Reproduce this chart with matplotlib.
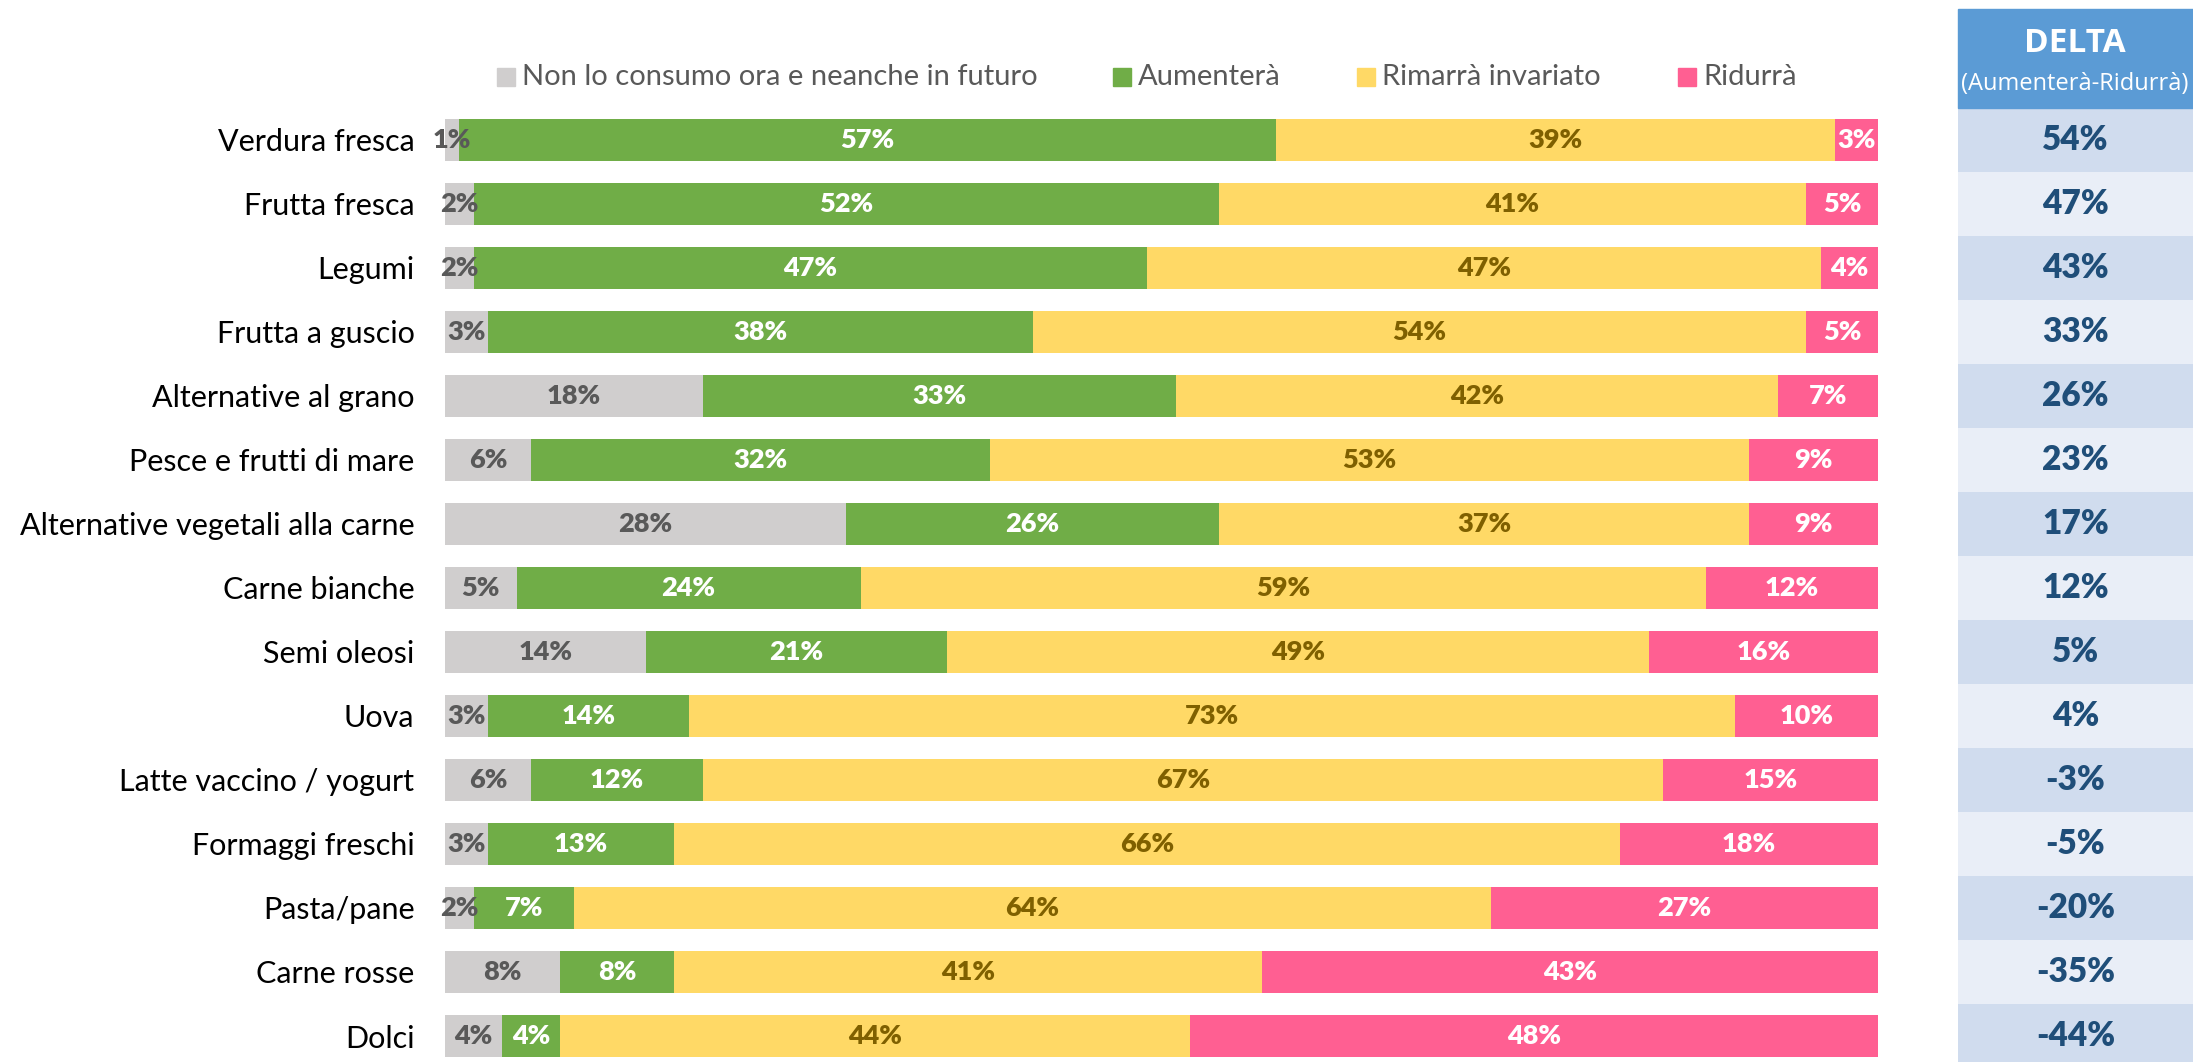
import matplotlib
matplotlib.use('Agg')
import matplotlib.pyplot as plt
from matplotlib.patches import Rectangle

# data
categories = ["Verdura fresca", "Frutta fresca", "Legumi", "Frutta a guscio",
              "Alternative al grano", "Pesce e frutti di mare",
              "Alternative vegetali alla carne", "Carne bianche", "Semi oleosi",
              "Uova", "Latte vaccino / yogurt", "Formaggi freschi", "Pasta/pane",
              "Carne rosse", "Dolci"]
non_consumo = [1, 2, 2, 3, 18, 6, 28, 5, 14, 3, 6, 3, 2, 8, 4]
aumentera = [57, 52, 47, 38, 33, 32, 26, 24, 21, 14, 12, 13, 7, 8, 4]
invariato = [39, 41, 47, 54, 42, 53, 37, 59, 49, 73, 67, 66, 64, 41, 44]
ridurra = [3, 5, 4, 5, 7, 9, 9, 12, 16, 10, 15, 18, 27, 43, 48]
delta = [54, 47, 43, 33, 26, 23, 17, 12, 5, 4, -3, -5, -20, -35, -44]

series_names = ["Non lo consumo ora e neanche in futuro", "Aumenterà",
                "Rimarrà invariato", "Ridurrà"]
series = [non_consumo, aumentera, invariato, ridurra]
colors = ["#D0CECE", "#70AD47", "#FFD966", "#FF5F92"]
text_colors = ["#595959", "white", "#7F6000", "white"]

plt.rcParams['font.family'] = ['Lato', 'DejaVu Sans']

W, H = 2193, 1062
fig = plt.figure(figsize=(W / 100, H / 100), dpi=100)

top_px = 108
row_h = 64
n = len(categories)
y_low = n - 0.5 - (top_px + n * row_h - H) / row_h

def fx(px):
    return px / W

def fy(px):
    return 1 - px / H

ax = fig.add_axes([fx(445), 0, fx(1878) - fx(445), fy(top_px)])
ypos = list(range(n))
left = [0] * n
for vals, name, col, tcol in zip(series, series_names, colors, text_colors):
    bars = ax.barh(ypos, vals, left=left, height=0.66, color=col, label=name)
    for b, v in zip(bars, vals):
        ax.text(b.get_x() + b.get_width() / 2, b.get_y() + b.get_height() / 2,
                f"{v}%", ha='center', va='center', color=tcol,
                fontsize=19.5, fontweight='heavy')
    left = [l + v for l, v in zip(left, vals)]

ax.set_xlim(0, 100)
ax.set_ylim(y_low, -0.5)
ax.set_yticks(ypos)
ax.set_yticklabels(categories, fontsize=22, color='black')
ax.tick_params(axis='y', length=0, pad=22)
ax.set_xticks([])
for s in ax.spines.values():
    s.set_visible(False)

# legend drawn by hand to match spacing
leg_x = [506, 1122, 1366, 1687]
leg_y = 77
for name, col, x in zip(series_names, colors, leg_x):
    fig.patches.append(Rectangle((fx(x - 9), fy(leg_y + 9)), 18 / W, 18 / H,
                                 transform=fig.transFigure, color=col))
    fig.text(fx(x + 16), fy(leg_y), name, ha='left', va='center',
             fontsize=21, color='#595959')

# delta column
dax = fig.add_axes([fx(1958), 0, 1 - fx(1958), fy(top_px)])
dax.set_xlim(0, 1)
dax.set_ylim(y_low, -0.5)
for i, d in enumerate(delta):
    dax.axhspan(i - 0.5, i + 0.5, color='#D0DCEE' if i % 2 == 0 else '#E9EEF7', lw=0)
    dax.text(0.5, i, f"{d}%", ha='center', va='center', color='#1F4E79',
             fontsize=24, fontweight='heavy')
dax.axis('off')

fig.patches.append(Rectangle((fx(1958), fy(top_px)), 1 - fx(1958), (top_px - 9) / H,
                             transform=fig.transFigure, color='#5B9BD5'))
fig.text(fx(2075), fy(44), "DELTA", ha='center', va='center', color='white',
         fontsize=24, fontweight='bold', family=['Open Sans', 'DejaVu Sans'])
fig.text(fx(2075), fy(84), "(Aumenterà-Ridurrà)", ha='center', va='center',
         color='white', fontsize=17, family=['Open Sans', 'DejaVu Sans'])

fig.savefig('out.png', dpi=100)
